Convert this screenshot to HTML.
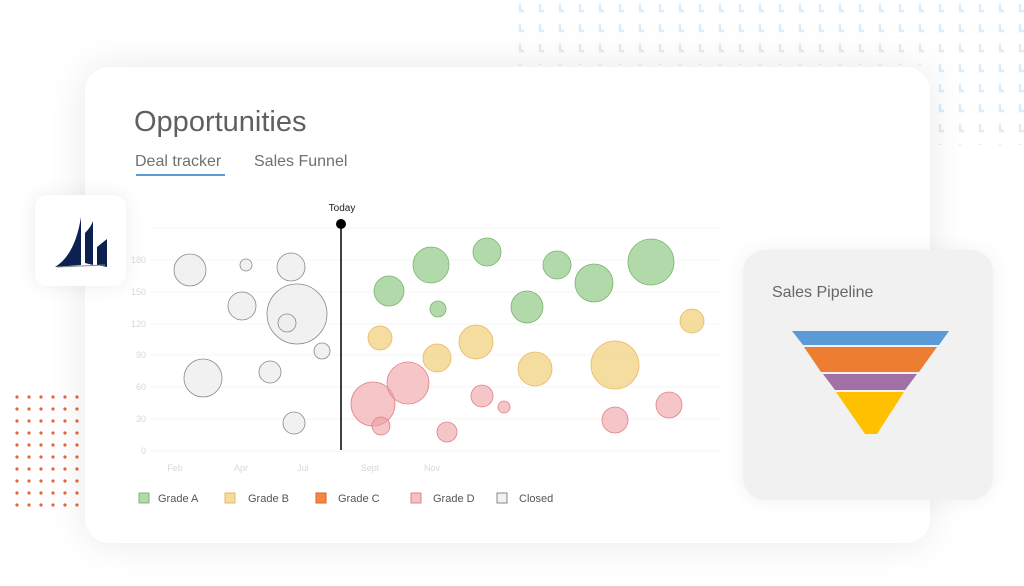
<!DOCTYPE html><html><head><style>
body{margin:0;width:1024px;height:586px;background:#fff;overflow:hidden;position:relative;font-family:"Liberation Sans",sans-serif}
.card{position:absolute;left:85px;top:67px;width:845px;height:476px;background:#fff;border-radius:24px;box-shadow:0 0 40px rgba(0,0,0,0.09)}
.logo{position:absolute;left:35px;top:195px;width:91px;height:91px;background:#fff;border-radius:12px;box-shadow:0 0 20px rgba(0,0,0,0.08)}
.pipe{position:absolute;left:743px;top:250px;width:250px;height:250px;background:#f1f1f1;border-radius:22px;box-shadow:0 0 20px rgba(0,0,0,0.06)}
</style></head><body>
<svg style="position:absolute;left:0;top:0" width="1024" height="586">
<defs>
<pattern id="bl" x="518" y="0" width="20" height="20" patternUnits="userSpaceOnUse">
<path d="M2 4v7h4" stroke="#dcecf9" stroke-width="2.4" fill="none"/>
</pattern>
<pattern id="dt" x="11" y="391" width="12" height="12" patternUnits="userSpaceOnUse"><circle cx="6" cy="6" r="1.6" fill="#e8643c"/></pattern>
</defs>
<rect x="518" y="0" width="506" height="65" fill="url(#bl)"/>
<rect x="930" y="65" width="94" height="80" fill="url(#bl)"/>
<rect x="11" y="391" width="72" height="120" fill="url(#dt)"/>
</svg>
<div class="card"></div>
<div class="logo"><svg width="91" height="91"><path d="M20 72 Q40 60 46 22 L46 70 Z" fill="#0d2150"/><path d="M50 68 L50 38 Q56 32 58 26 L58 70 Z" fill="#0d2150"/><path d="M62 70 L62 52 L72 44 L72 72 Z" fill="#0d2150"/><path d="M22 72 L70 70" stroke="#888" stroke-width="1"/></svg></div>
<div style="position:absolute;left:134px;top:106px;font-size:29px;color:#606060">Opportunities</div>
<div style="position:absolute;left:135px;top:153px;font-size:16px;color:#707070">Deal tracker</div>
<div style="position:absolute;left:136px;top:174px;width:89px;height:2px;background:#5b9bd5"></div>
<div style="position:absolute;left:254px;top:153px;font-size:16px;color:#707070">Sales Funnel</div>
<svg style="position:absolute;left:0;top:0" width="1024" height="586" font-family="Liberation Sans, sans-serif">
<g stroke="#f6f6f6" stroke-width="1"><line x1="150" x2="720" y1="228" y2="228"/><line x1="150" x2="720" y1="260" y2="260"/><line x1="150" x2="720" y1="292" y2="292"/><line x1="150" x2="720" y1="324" y2="324"/><line x1="150" x2="720" y1="355" y2="355"/><line x1="150" x2="720" y1="387" y2="387"/><line x1="150" x2="720" y1="419" y2="419"/><line x1="150" x2="720" y1="451" y2="451"/></g>
<g fill="#d8d8d8" font-size="9" text-anchor="end"><text x="146" y="263">180</text><text x="146" y="295">150</text><text x="146" y="327">120</text><text x="146" y="358">90</text><text x="146" y="390">60</text><text x="146" y="422">30</text><text x="146" y="454">0</text></g>
<g fill="#d8d8d8" font-size="9" text-anchor="middle"><text x="175" y="471">Feb</text><text x="241" y="471">Apr</text><text x="303" y="471">Jul</text><text x="370" y="471">Sept</text><text x="432" y="471">Nov</text></g>
<g fill="#eee" fill-opacity="0.8" stroke="#888" stroke-width="0.8">
<circle cx="190" cy="270" r="16"/><circle cx="246" cy="265" r="6"/><circle cx="291" cy="267" r="14"/><circle cx="242" cy="306" r="14"/><circle cx="297" cy="314" r="30"/><circle cx="287" cy="323" r="9"/><circle cx="322" cy="351" r="8"/><circle cx="203" cy="378" r="19"/><circle cx="270" cy="372" r="11"/><circle cx="294" cy="423" r="11"/></g>
<g fill="#a9d5a0" fill-opacity="0.9" stroke="#78b56c" stroke-width="0.8">
<circle cx="389" cy="291" r="15"/><circle cx="431" cy="265" r="18"/><circle cx="487" cy="252" r="14"/><circle cx="438" cy="309" r="8"/><circle cx="527" cy="307" r="16"/><circle cx="557" cy="265" r="14"/><circle cx="594" cy="283" r="19"/><circle cx="651" cy="262" r="23"/></g>
<g fill="#f3d993" fill-opacity="0.9" stroke="#e7b865" stroke-width="0.8">
<circle cx="380" cy="338" r="12"/><circle cx="437" cy="358" r="14"/><circle cx="476" cy="342" r="17"/><circle cx="535" cy="369" r="17"/><circle cx="615" cy="365" r="24"/><circle cx="692" cy="321" r="12"/></g>
<g fill="#ef9fa3" fill-opacity="0.6" stroke="#e08088" stroke-width="0.8">
<circle cx="373" cy="404" r="22"/><circle cx="408" cy="383" r="21"/><circle cx="381" cy="426" r="9"/><circle cx="482" cy="396" r="11"/><circle cx="504" cy="407" r="6"/><circle cx="447" cy="432" r="10"/><circle cx="615" cy="420" r="13"/><circle cx="669" cy="405" r="13"/></g>
<line x1="341" y1="224" x2="341" y2="450" stroke="#000" stroke-width="1.5"/><circle cx="341" cy="224" r="5" fill="#000"/>
<text x="342" y="211" font-size="10" text-anchor="middle" fill="#222">Today</text>
<g font-size="11" fill="#555">
<rect x="139" y="493" width="10" height="10" fill="#b2d9aa" stroke="#80b874"/><text x="158" y="502">Grade A</text>
<rect x="225" y="493" width="10" height="10" fill="#f5dc9c" stroke="#e7b865"/><text x="248" y="502">Grade B</text>
<rect x="316" y="493" width="10" height="10" fill="#f08a40" stroke="#e0602a"/><text x="338" y="502">Grade C</text>
<rect x="411" y="493" width="10" height="10" fill="#f4c0c2" stroke="#e08088"/><text x="433" y="502">Grade D</text>
<rect x="497" y="493" width="10" height="10" fill="#f2f2f2" stroke="#888"/><text x="519" y="502">Closed</text></g>
</svg>
<div class="pipe"></div>
<div style="position:absolute;left:772px;top:284px;font-size:16px;color:#666">Sales Pipeline</div>
<svg style="position:absolute;left:0;top:0" width="1024" height="586">
<polygon points="792,331 949,331 939,345 803,345" fill="#5b9bd5"/>
<polygon points="804,347 937,347 919,372 821,372" fill="#ed7d31"/>
<polygon points="823,374 917,374 905,390 835,390" fill="#a070a6"/>
<polygon points="836,392 904,392 877,434 865,434" fill="#ffc000"/>
</svg>
</body></html>
